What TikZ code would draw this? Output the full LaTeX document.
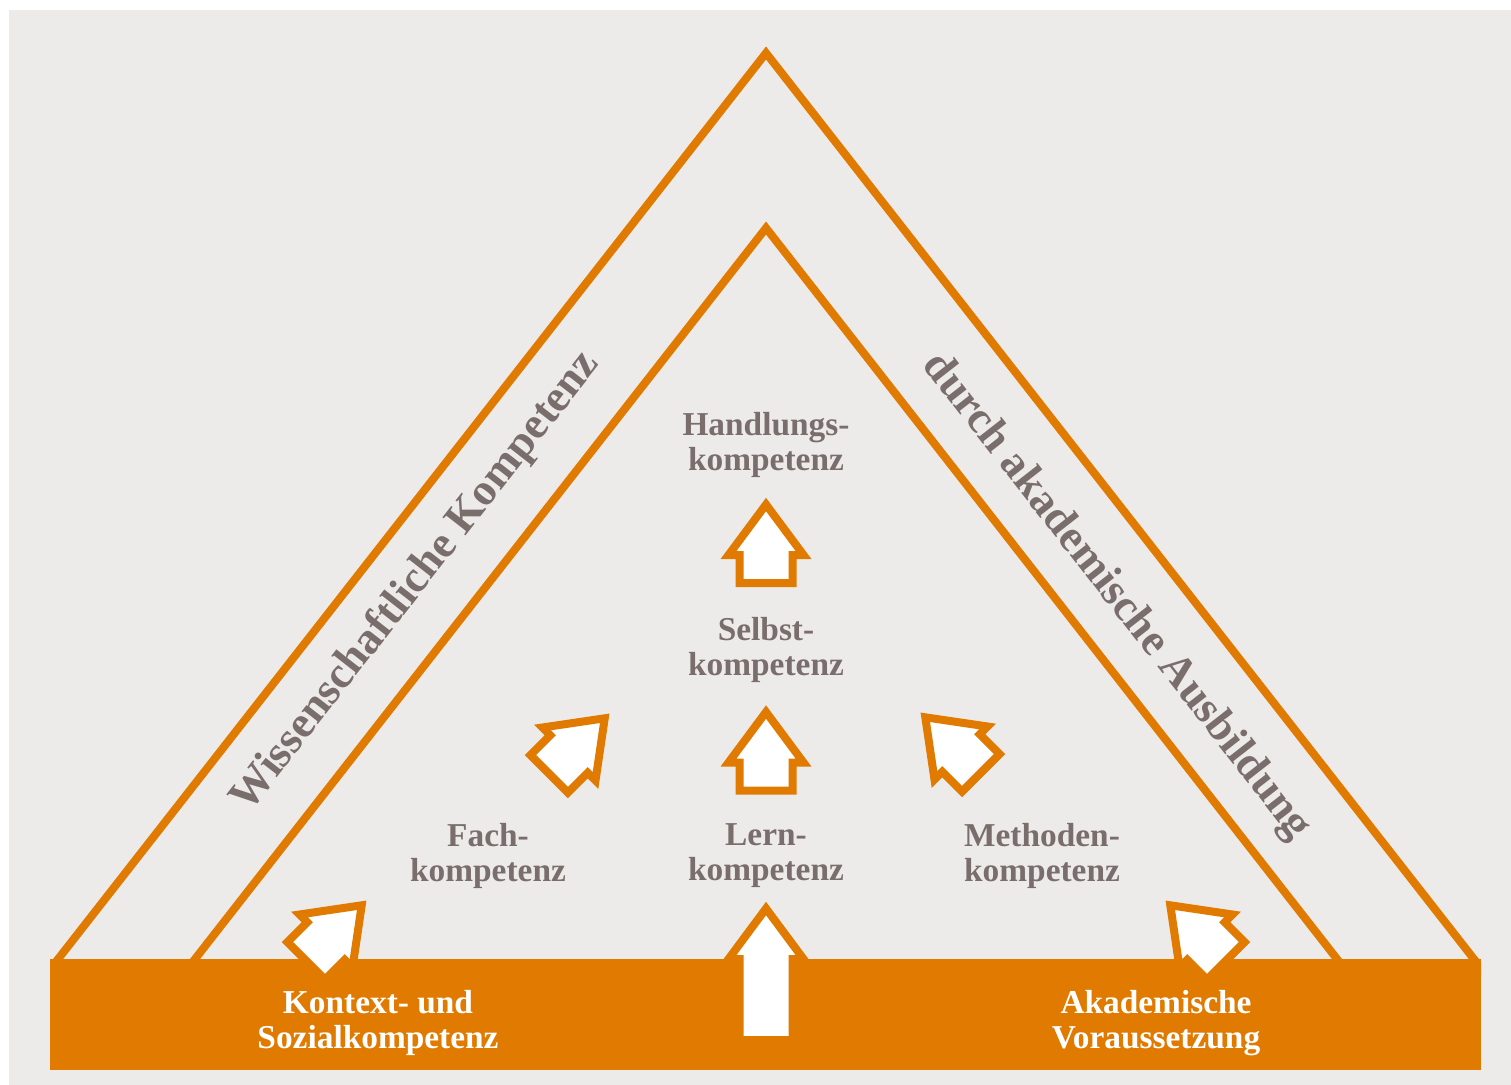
\documentclass[tikz,border=0pt]{standalone}
\usepackage{fontspec}
\setmainfont{Liberation Serif}
\usepackage{xcolor}
\usetikzlibrary{calc}
\definecolor{kompOrange}{RGB}{224,122,0}
\definecolor{kompGrey}{RGB}{237,235,233}
\definecolor{kompText}{RGB}{122,110,108}
\tikzset{
  label text/.style={font=\bfseries\fontsize{19}{20}\selectfont,text=kompText,align=center,inner sep=0pt},
  bar text/.style={label text,text=white},
  side text/.style={font=\bfseries\fontsize{25.5}{26}\selectfont,text=kompText,inner sep=0pt},
  frame line/.style={draw=kompOrange,line width=0.16cm,line join=miter},
  pics/blockarrow/.style={code={
    \draw[frame line,fill=white] (0,0) -- (37.5,50.5) -- (26.5,50.5) -- (26.5,#1)
      -- (-26.5,#1) -- (-26.5,50.5) -- (-37.5,50.5) -- cycle;
  }}
}

\begin{document}
\begin{tikzpicture}[x=0.02cm,y=-0.02cm]
        \useasboundingbox (0,0) rectangle (1511,1085);
        \fill[kompGrey] (9,10) rectangle (1511,1085);

        \begin{scope}
          \clip (50,0) rectangle (1481,1000);
          \coordinate (outer top) at (766,53);
          \coordinate (inner top) at (766,228);
          \draw[frame line] (26.1,1000) -- (outer top) -- (1505.9,1000);
          \draw[frame line] (163,1000) -- (inner top) -- (1369,1000);
        \end{scope}
        \fill[kompOrange] (50,959) rectangle (1481,1070);

        \node[label text] (handlung) at (766,445) {Handlungs-\\kompetenz};
        \node[label text] (selbst) at (766,650) {Selbst-\\kompetenz};
        \node[label text] (fach) at (488,856) {Fach-\\kompetenz};
        \node[label text] (lern) at (766,856) {Lern-\\kompetenz};
        \node[label text] (methoden) at (1042,856) {Methoden-\\kompetenz};
        \node[bar text] (kontext) at (378,1023) {Kontext- und\\Sozialkompetenz};
        \node[bar text] (akademisch) at (1156,1023) {Akademische\\Voraussetzung};
        \node[side text,rotate=52] (wissen) at (416,582) {Wissenschaftliche Kompetenz};
        \node[side text,rotate=-52] (ausbildung) at (1116,597) {durch akademische Ausbildung};

        \pic at (766,504.5) {blockarrow=78.5};
        \pic at (766,712) {blockarrow=78.5};
        \pic[rotate=-45] at (604.7,718.3) {blockarrow=78.5};
        \pic[rotate=45] at (925.3,717.3) {blockarrow=78.5};
        \pic[rotate=-45] at (361.7,905.3) {blockarrow=78.5};
        \pic[rotate=45] at (1170.3,905.3) {blockarrow=78.5};
        \pic at (766,908.5) {blockarrow=131.5};
\end{tikzpicture}
\end{document}
